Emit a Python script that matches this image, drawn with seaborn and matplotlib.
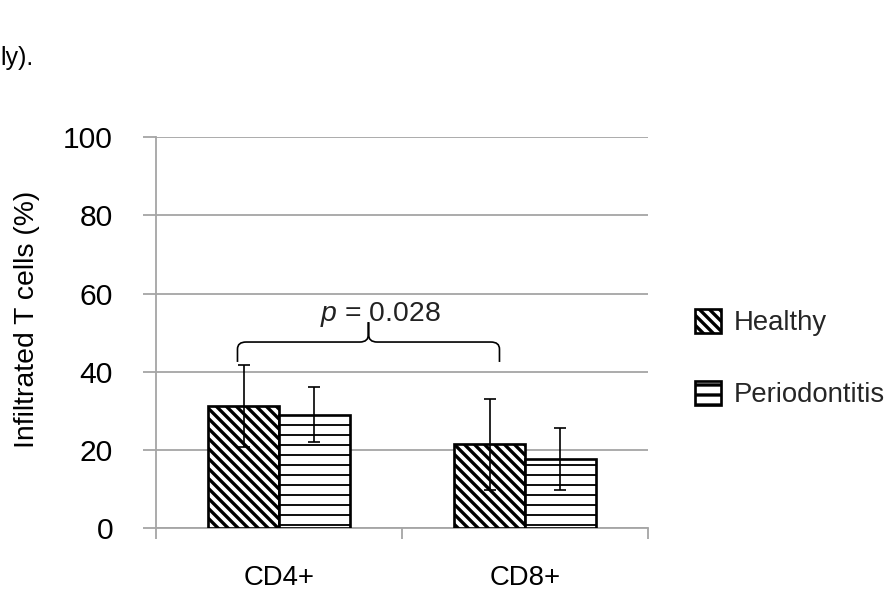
import matplotlib
matplotlib.use("Agg")
import matplotlib.pyplot as plt
import pandas as pd
import seaborn as sns
from matplotlib.patches import Patch, PathPatch
from matplotlib.path import Path

# ---- data -------------------------------------------------------------
cell_types = ["CD4+", "CD8+"]
groups = ["Healthy", "Periodontitis"]
healthy_mean = [31.2, 21.4]
healthy_sd = [10.4, 11.7]
perio_mean = [29.0, 17.6]
perio_sd = [7.1, 7.9]
y_ticks = [0, 20, 40, 60, 80, 100]
p_value = "0.028"

# ---- style ------------------------------------------------------------
sns.set_theme(style="white")
plt.rcParams["font.family"] = ["Liberation Sans", "DejaVu Sans"]
plt.rcParams["mathtext.fontset"] = "custom"
plt.rcParams["mathtext.it"] = "Liberation Sans:italic"
plt.rcParams["mathtext.rm"] = "Liberation Sans"
plt.rcParams["hatch.linewidth"] = 2.0
plt.rcParams["hatch.color"] = "black"

GRID = "#a6a6a6"
BACKSLASH = chr(92)
hatches = [BACKSLASH * 4, "--"]   # dense diagonal / dense horizontal
hatch_lw = [2.0, 1.1]

df = pd.DataFrame({
    "cell": cell_types * 2,
    "group": [groups[0]] * 2 + [groups[1]] * 2,
    "pct": healthy_mean + perio_mean,
})
sds = [healthy_sd, perio_sd]

DPI = 120
fig = plt.figure(figsize=(887 / DPI, 600 / DPI), dpi=DPI)
ax = fig.add_axes([156 / 887, 1 - 528 / 600, 492 / 887, (528 - 137.3) / 600])

sns.barplot(data=df, x="cell", y="pct", hue="group", hue_order=groups,
            order=cell_types, palette=["white", "white"], saturation=1,
            width=0.575, gap=0, errorbar=None, legend=False,
            edgecolor="black", linewidth=1.6, zorder=3, ax=ax)

# hatching and error bars for each group
for container, hatch, hlw, sd in zip(ax.containers, hatches, hatch_lw, sds):
    xs, ys = [], []
    for bar in container:
        bar.set_hatch(hatch)
        if hasattr(bar, "set_hatch_linewidth"):
            bar.set_hatch_linewidth(hlw)
        xs.append(bar.get_x() + bar.get_width() / 2)
        ys.append(bar.get_height())
    ax.errorbar(xs, ys, yerr=sd, fmt="none", ecolor="black",
                elinewidth=1.0, capsize=3.6, capthick=1.0, zorder=4)

# ---- axes -------------------------------------------------------------
ax.set_xlim(-0.5, 1.5)
ax.set_ylim(0, 100)
ax.set_yticks(y_ticks)
ax.set_xticks([-0.5, 0.5, 1.5], minor=True)
ax.set_axisbelow(True)
ax.yaxis.grid(True, color=GRID, linewidth=1.1)
ax.xaxis.grid(False)
for side in ("top", "right"):
    ax.spines[side].set_visible(False)
for side in ("left", "bottom"):
    ax.spines[side].set_color(GRID)
    ax.spines[side].set_linewidth(1.1)

ax.tick_params(axis="y", left=True, length=7.8, width=1.1, color=GRID,
               direction="out", pad=18, labelsize=18, labelcolor="black")
ax.tick_params(axis="x", which="major", bottom=True, length=0, pad=22,
               labelsize=16.5, labelcolor="black")
ax.tick_params(axis="x", which="minor", bottom=True, length=6.6, width=1.1,
               color=GRID, direction="out")

ax.set_xlabel("")
ax.set_ylabel("Infiltrated T cells (%)", fontsize=17, color="black")
ax.yaxis.set_label_coords(-0.236, 0.535)

# ---- significance brace -------------------------------------------------
h_bars = ax.containers[0]
x0 = h_bars[0].get_x() + h_bars[0].get_width() / 2 - 0.025
x1 = h_bars[1].get_x() + h_bars[1].get_width() / 2 + 0.04
xc = (x0 + x1) / 2
y_end, y_h, y_tip = 42.5, 47.6, 52.7
r = 0.035
verts = [
    (x0, y_end), (x0, y_h - 1.8),
    (x0, y_h), (x0 + r, y_h),
    (xc - r, y_h),
    (xc, y_h), (xc, y_h + 2.0),
    (xc, y_tip),
    (xc, y_h + 2.0),
    (xc, y_h), (xc + r, y_h),
    (x1 - r, y_h),
    (x1, y_h), (x1, y_h - 1.8),
    (x1, y_end),
]
codes = [Path.MOVETO, Path.LINETO,
         Path.CURVE3, Path.CURVE3,
         Path.LINETO,
         Path.CURVE3, Path.CURVE3,
         Path.LINETO,
         Path.LINETO,
         Path.CURVE3, Path.CURVE3,
         Path.LINETO,
         Path.CURVE3, Path.CURVE3,
         Path.LINETO]
ax.add_patch(PathPatch(Path(verts, codes), fill=False, edgecolor="black",
                       linewidth=1.0, zorder=5, clip_on=False))
ax.text(xc + 0.05, y_tip + 0.3, r"$p$ = " + p_value, ha="center",
        va="baseline", fontsize=17, color="#222222", zorder=6)

# ---- legend -------------------------------------------------------------
handles = [Patch(facecolor="white", edgecolor="black", hatch=h, linewidth=1.6)
           for h in hatches]
fig.legend(handles, groups, loc="upper left",
           bbox_to_anchor=(695 / 887, 1 - 309 / 600), frameon=False,
           fontsize=16.5, handlelength=0.95, handleheight=0.95,
           handletextpad=0.45, labelspacing=1.62, borderpad=0,
           borderaxespad=0)

# ---- page text ------------------------------------------------------------
fig.text(0.0, 1 - 65 / 600, "ly).", fontsize=15, color="black", va="baseline")

fig.savefig("out.png", dpi=DPI)
